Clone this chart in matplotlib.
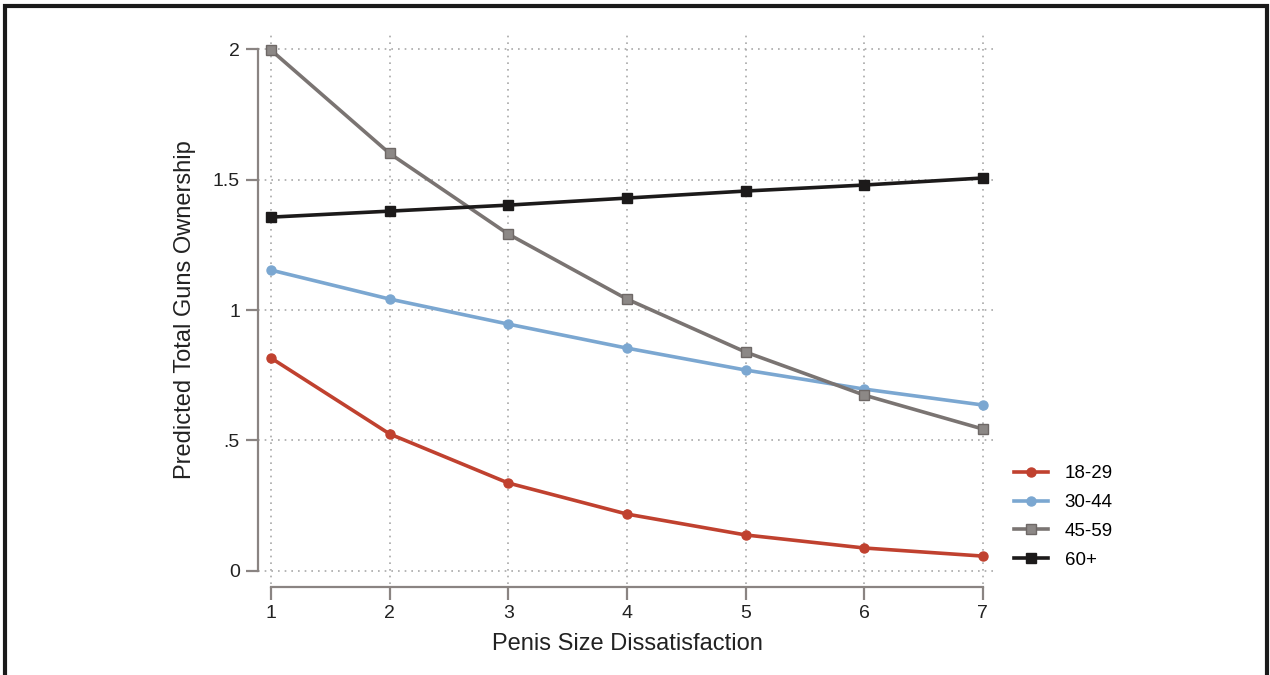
import numpy as np
import matplotlib.pyplot as plt
from matplotlib.patches import Rectangle

plt.rcParams['font.family'] = ['Liberation Sans', 'DejaVu Sans']

# predicted values
dissatisfaction = [1, 2, 3, 4, 5, 6, 7]
age_18_29 = [0.816, 0.525, 0.337, 0.218, 0.138, 0.088, 0.057]
age_30_44 = [1.153, 1.042, 0.946, 0.854, 0.770, 0.697, 0.636]
age_45_59 = [1.996, 1.600, 1.291, 1.042, 0.839, 0.674, 0.544]
age_60_up = [1.356, 1.379, 1.402, 1.429, 1.456, 1.479, 1.506]
series_labels = ['18-29', '30-44', '45-59', '60+']
y_ticks = [0, 0.5, 1, 1.5, 2]
y_ticklabels = ['0', '.5', '1', '1.5', '2']

fig = plt.figure(figsize=(12.7, 6.75), dpi=100)
ax = fig.add_axes([258 / 1270, 1 - 584 / 675, (997 - 258) / 1270, (584 - 35) / 675])

ax.plot(dissatisfaction, age_18_29, color='#c0412f', lw=2.6, marker='o', ms=6.5,
        label=series_labels[0])
ax.plot(dissatisfaction, age_30_44, color='#7ba7d1', lw=2.6, marker='o', ms=6.5,
        label=series_labels[1])
ax.plot(dissatisfaction, age_45_59, color='#7a7472', lw=2.6, marker='s', ms=6.5,
        mfc='#8c8886', mec='#6e6866', label=series_labels[2])
ax.plot(dissatisfaction, age_60_up, color='#1c1a1a', lw=2.6, marker='s', ms=6.5,
        label=series_labels[3])

ax.set_xlim(0.89, 7.12)
ax.set_ylim(-0.05, 2.054)
ax.set_xticks(dissatisfaction)
ax.set_yticks(y_ticks)
ax.set_yticklabels(y_ticklabels)

ax.grid(True, color='#a8a8a8', linestyle=(0, (1, 3)), lw=1.2)
for s in ['top', 'right']:
    ax.spines[s].set_visible(False)
for s in ['left', 'bottom']:
    ax.spines[s].set_color('#8a8482')
    ax.spines[s].set_linewidth(1.6)
ax.spines['left'].set_bounds(0, 2)
ax.spines['bottom'].set_bounds(1, 7)
ax.spines['bottom'].set_position(('outward', 2))
ax.tick_params(direction='out', length=9, width=1.6, color='#8a8482',
               labelsize=14, pad=4, labelcolor='#222222')

ax.set_xlabel('Penis Size Dissatisfaction', fontsize=17, color='#222222', labelpad=8)
ax.set_ylabel('Predicted Total Guns Ownership', fontsize=17, color='#222222', labelpad=12)

ax.legend(loc='upper left', bbox_to_anchor=(1.0, 0.247), frameon=False,
          fontsize=13.5, handlelength=1.8, labelspacing=0.62, handletextpad=0.9)

fig.patches.append(Rectangle((5 / 1270, -0.01), 1262 / 1270, 1 - 6 / 675 + 0.01,
                             transform=fig.transFigure, fill=False,
                             edgecolor='#1a1a1a', lw=3))

fig.savefig('out.png', dpi=100)
